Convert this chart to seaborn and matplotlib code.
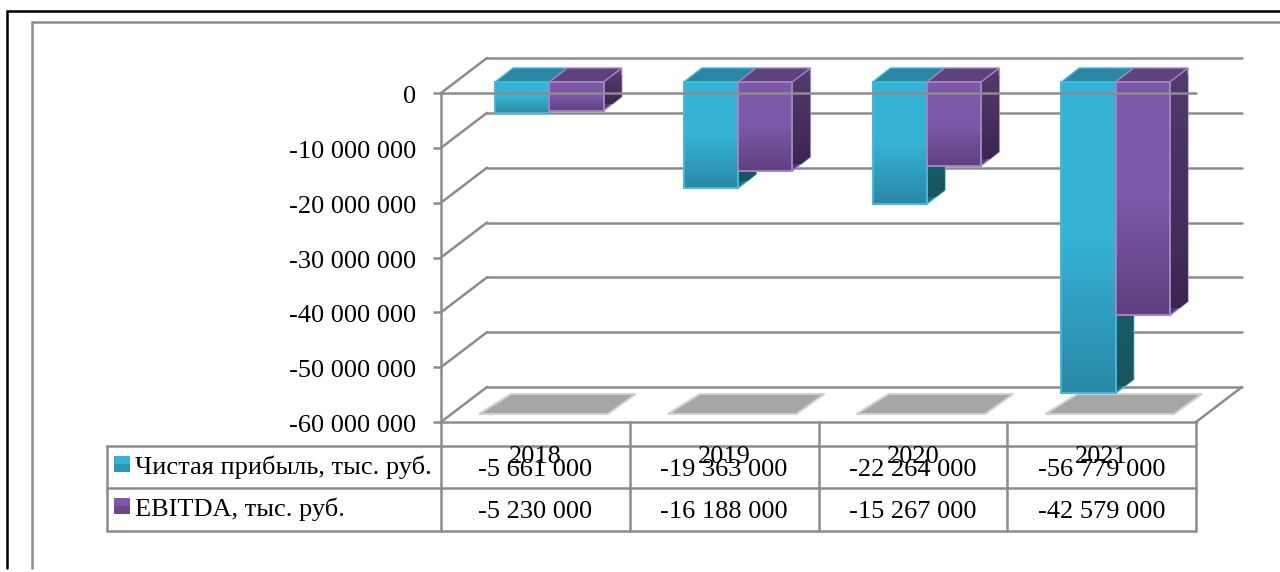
import numpy as np
import pandas as pd
import seaborn as sns
import matplotlib
matplotlib.use("Agg")
import matplotlib.pyplot as plt
from matplotlib.patches import Polygon, Rectangle
from matplotlib.transforms import Affine2D
from matplotlib.colors import LinearSegmentedColormap

years = ["2018", "2019", "2020", "2021"]
profit = [-5661000, -19363000, -22264000, -56779000]
ebitda = [-5230000, -16188000, -15267000, -42579000]
series_names = ["Чистая прибыль, тыс. руб.", "EBITDA, тыс. руб."]
y_ticks = [0, -10000000, -20000000, -30000000, -40000000, -50000000, -60000000]

W, H = 1280, 572
GREY = "#8c8c8c"
FS = 19

sns.set_theme(style="white")
plt.rcParams["font.family"] = ["Liberation Serif", "DejaVu Serif"]

df = pd.DataFrame({
    "year": years * 2,
    "series": [series_names[0]] * 4 + [series_names[1]] * 4,
    "value": profit + ebitda,
})

fig = plt.figure(figsize=(W / 100, H / 100), dpi=100)
# front plane of the fake 3d box, in pixels of the image
ax = fig.add_axes([441 / W, 1 - 422 / H, 755 / W, 329 / H])
# overlay for frame and table
ov = fig.add_axes([0, 0, 1, 1], zorder=5)
ov.set_xlim(0, W)
ov.set_ylim(H, 0)
ov.axis("off")
ov.patch.set_alpha(0)

sns.barplot(data=df, x="year", y="value", hue="series", hue_order=series_names,
            palette=["#35b3d6", "#7e58a8"], width=0.575, gap=0, dodge=True,
            legend=False, ax=ax, zorder=3, errorbar=None)

ax.set_xlim(-0.5, 3.5)
ax.set_ylim(-60000000, 0)
ax.set_xlabel("")
ax.set_ylabel("")
ax.set_xticks([])
ax.set_yticks(y_ticks)
ax.set_yticklabels([f"{t:,}".replace(",", " ") for t in y_ticks], fontsize=FS, color="black")
ax.tick_params(axis="y", length=5.8, width=1.8, color=GREY, pad=12, left=True)
for lab in ax.get_yticklabels():
    lab.set_transform(lab.get_transform() + Affine2D().translate(0, -1.5))
sns.despine(ax=ax, top=True, right=True)
for s in ["left", "bottom"]:
    ax.spines[s].set_color(GREY)
    ax.spines[s].set_linewidth(1.8)
ax.patch.set_alpha(0)

back_tr = ax.transData + Affine2D().translate(46, 35)
bar_tr = ax.transData + Affine2D().translate(14, 11)

# back wall lines and the diagonals of the left wall / floor
for t in y_ticks:
    ax.plot([-0.5, 3.5], [t, t], color=GREY, lw=1.8, transform=back_tr, clip_on=False, zorder=1)
    x0, y0 = ax.transData.transform((-0.5, t))
    ov.plot([x0, x0 + 46], [H - y0, H - y0 - 35], color=GREY, lw=1.8, zorder=1)
x0, y0 = ax.transData.transform((3.5, -60000000))
ov.plot([x0, x0 + 46], [H - y0, H - y0 - 35], color=GREY, lw=1.8)

# gradient colours per series: front top, front bottom, side top, side bottom, top face, edge
looks = [
    ("#35b3d6", "#2a88a6", "#1f6b7e", "#19545f", "#2a86a4", "#45b8d8"),
    ("#7e58a8", "#5f4080", "#523a6c", "#3c2650", "#5d437e", "#a184c4"),
]

for k, (cont, look) in enumerate(zip(ax.containers, looks)):
    front_cmap = LinearSegmentedColormap.from_list("f", [look[0], look[0], look[1]])
    side_cmap = LinearSegmentedColormap.from_list("s", [look[2], look[3]])
    for bar in cont:
        left = bar.get_x()
        right = left + bar.get_width()
        top = max(bar.get_y(), bar.get_y() + bar.get_height())
        bottom = min(bar.get_y(), bar.get_y() + bar.get_height())
        # corners in pixels (display coords, y up)
        xl, yt = bar_tr.transform((left, top))
        xr, yb = bar_tr.transform((right, bottom))
        z = 3 + k
        side = Polygon([(xr, yt), (xr + 18, yt + 14), (xr + 18, yb + 14), (xr, yb)],
                       closed=True, transform=None, facecolor=look[2], edgecolor=look[5],
                       lw=1.0, zorder=z, clip_on=False)
        ax.add_patch(side)
        im = ax.imshow(np.linspace(0, 1, 64).reshape(-1, 1), cmap=side_cmap, aspect="auto",
                       extent=(xr, xr + 18, yb + 7, yt + 7), transform=Affine2D(), zorder=z,
                       interpolation="bilinear")
        im.set_clip_box(fig.bbox)
        im.set_clip_path(side)
        top_face = Polygon([(xl, yt), (xl + 18, yt + 14), (xr + 18, yt + 14), (xr, yt)],
                           closed=True, transform=None, facecolor=look[4], edgecolor=look[5],
                           lw=1.0, zorder=z, clip_on=False)
        ax.add_patch(top_face)
        bar.set_transform(bar_tr)
        bar.set_clip_on(False)
        bar.set_zorder(z + 0.7)
        bar.set_facecolor("none")
        bar.set_edgecolor(look[5])
        bar.set_linewidth(1.4)
        im2 = ax.imshow(np.linspace(0, 1, 64).reshape(-1, 1), cmap=front_cmap, aspect="auto",
                        extent=(left, right, bottom, top), transform=bar_tr, zorder=z + 0.6,
                        interpolation="bilinear")
        im2.set_clip_box(fig.bbox)
        im2.set_clip_path(None)
        if k == 0:
            # floor shadow of the pair, taken from the pair's position
            pair_r = xr + bar.get_width() * 755 / 4
            floor = ax.transData.transform((0, -60000000))[1]
            ax.add_patch(Polygon([(xl - 16, floor + 8), (xl + 16, floor + 28),
                                  (pair_r + 32, floor + 28), (pair_r + 4, floor + 8)],
                                 closed=True, transform=None, facecolor="#a6a6a6",
                                 edgecolor="#d0d0d0", lw=1.5, zorder=2, clip_on=False))

ax.set_xlim(-0.5, 3.5)
ax.set_ylim(-60000000, 0)
ax.set_aspect("auto")

# front zero line goes over the bars
ax.axhline(0, color=GREY, lw=1.8, zorder=8, clip_on=False)

# outer picture frames
ov.plot([7, 7, W], [568, 11, 11], color="black", lw=1.8, solid_joinstyle="miter")
ov.plot([32, 32, W], [568, 22, 22], color=GREY, lw=1.8, solid_joinstyle="miter")

# data table below the axis
col_x = [441 + 188.75 * i for i in range(5)]
row_y = [446, 488, 531]
ov.plot([107, 107], [row_y[0], row_y[2]], color=GREY, lw=1.8)
for y in row_y:
    ov.plot([107, col_x[-1]], [y, y], color=GREY, lw=1.8)
for x in col_x:
    ov.plot([x, x], [422, row_y[2]], color=GREY, lw=1.8)

for i, (name, vals, col, ky) in enumerate(zip(series_names, [profit, ebitda], ["#35b3d6", "#7e58a8"], [456, 498])):
    ov.add_patch(Rectangle((114, ky), 16, 16, facecolor=col, edgecolor="none"))
    ov.add_patch(Rectangle((114, ky + 8), 16, 8, facecolor=looks[i][1], edgecolor="none", alpha=0.7))
    ov.text(135, [467, 509][i], name, fontsize=FS, va="center", ha="left", color="black")
    for j, v in enumerate(vals):
        ov.text((col_x[j] + col_x[j + 1]) / 2, [470, 512][i], f"{v:,}".replace(",", " "),
                fontsize=FS, va="center", ha="center", color="black")
for j, yr in enumerate(years):
    ov.text((col_x[j] + col_x[j + 1]) / 2, 457, yr, fontsize=FS, va="center", ha="center", color="black")

fig.savefig("out.png", dpi=100, facecolor="white")
